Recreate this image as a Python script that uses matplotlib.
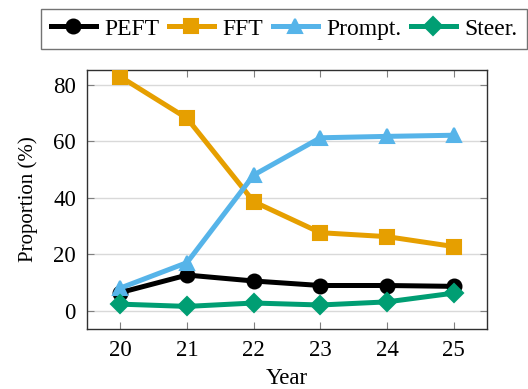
import matplotlib
matplotlib.use("Agg")
import matplotlib.pyplot as plt

plt.rcParams['font.family'] = ['Liberation Serif', 'DejaVu Serif']
plt.rcParams['mathtext.fontset'] = 'stix'

years = [20, 21, 22, 23, 24, 25]
peft = [6.5, 12.7, 10.6, 9.0, 9.0, 8.7]
fft = [82.9, 68.2, 38.7, 27.7, 26.3, 22.8]
prompt = [8.1, 17.1, 48.1, 61.3, 61.8, 62.2]
steer = [2.4, 1.6, 2.8, 2.1, 3.2, 6.3]

series = [
    ("PEFT", peft, "#000000", "o"),
    ("FFT", fft, "#E69F00", "s"),
    ("Prompt.", prompt, "#56B4E9", "^"),
    ("Steer.", steer, "#009E73", "D"),
]

fig = plt.figure(figsize=(5.28, 3.89), dpi=100)
ax = fig.add_axes([87/528, 1 - 329/389, 400/528, 259/389])

for name, vals, color, marker in series:
    ms = 10 if marker != "D" else 9
    ax.plot(years, vals, color=color, lw=3.6, marker=marker, ms=ms,
            mfc=color, mec=color, mew=1.5, label=name, zorder=3)

ax.set_xlim(19.5, 25.5)
ax.set_ylim(-6.4, 85.3)
ax.set_xticks(years)
ax.set_xticklabels([str(y) for y in years])
ax.set_yticks([0, 20, 40, 60, 80])
ax.grid(axis='y', color='#d9d9d9', lw=1.0, zorder=0)
ax.tick_params(direction='in', length=5, width=0.8, color='#808080',
               top=True, right=True, labelsize=16.5, pad=8)
for s in ax.spines.values():
    s.set_linewidth(1.0)
    s.set_color('#303030')

ax.set_xlabel("Year", fontsize=16.5, labelpad=5)
ax.set_ylabel("Proportion (%)", fontsize=15, labelpad=11)

leg = fig.legend(loc='center', bbox_to_anchor=(284/528, 1 - 29/389), ncol=4,
                 fontsize=17, frameon=True, fancybox=False, edgecolor='#505050',
                 handlelength=1.9, handletextpad=0.35, columnspacing=0.42,
                 borderpad=0.4, borderaxespad=0)
leg.get_frame().set_linewidth(1.0)

fig.savefig("out.png", dpi=100)
